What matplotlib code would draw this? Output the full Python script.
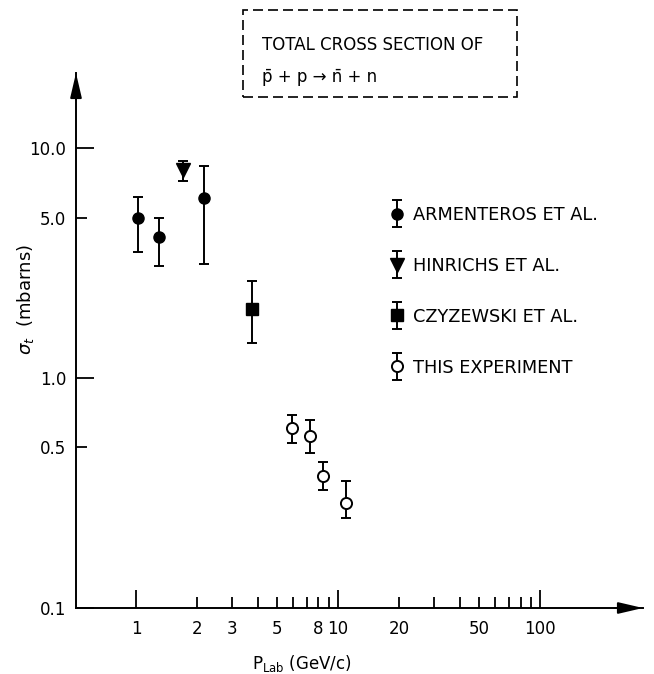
import matplotlib
matplotlib.use("Agg")
import matplotlib.pyplot as plt
from matplotlib.patches import Rectangle
from matplotlib.ticker import FixedLocator, FuncFormatter
from matplotlib.legend_handler import HandlerErrorbar
from matplotlib.container import ErrorbarContainer
import numpy as np

# data: momentum (GeV/c), cross section (mb), error band
arm_p = [1.02, 1.30, 2.18]
arm_s = [5.0, 4.12, 6.09]
arm_lo = [3.56, 3.07, 3.15]
arm_hi = [6.15, 5.0, 8.35]

hin_p = [1.71]
hin_s = [8.02]
hin_lo = [7.21]
hin_hi = [8.84]

czy_p = [3.76]
czy_s = [2.0]
czy_lo = [1.43]
czy_hi = [2.64]

exp_p = [5.90, 7.27, 8.40, 11.0]
exp_s = [0.608, 0.563, 0.375, 0.287]
exp_lo = [0.524, 0.471, 0.326, 0.246]
exp_hi = [0.695, 0.655, 0.431, 0.357]

x_major = [1, 10, 100]
x_minor = [2, 3, 4, 5, 6, 7, 8, 9, 20, 30, 40, 50, 60, 70, 80, 90]
x_labels = {1: "1", 2: "2", 3: "3", 5: "5", 8: "8", 10: "10",
            20: "20", 50: "50", 100: "100"}
y_major = [0.1, 1.0, 10.0]
y_minor = [0.5, 5.0]


def yerr(s, lo, hi):
    s = np.array(s)
    return [s - np.array(lo), np.array(hi) - s]


plt.rcParams["font.family"] = "DejaVu Sans"
fig = plt.figure(figsize=(6.54, 6.74), dpi=100)
W, H = 654, 674
ax = fig.add_axes([76 / W, 1 - 608 / H, (643 - 76) / W, (608 - 73) / H])
ax.set_xscale("log")
ax.set_yscale("log")
ax.set_xlim(0.505, 323)
ax.set_ylim(0.1, 21.3)

for side in ("top", "right"):
    ax.spines[side].set_visible(False)
for side in ("left", "bottom"):
    ax.spines[side].set_linewidth(1.4)

# arrow heads on the axes
arrow = dict(arrowstyle="-|>,head_length=1.5,head_width=0.35",
             color="black", lw=1.4, shrinkA=0, shrinkB=0)
ax.annotate("", xy=(1.0, 0), xytext=(0.95, 0), xycoords="axes fraction",
            arrowprops=arrow)
ax.annotate("", xy=(0, 1.0), xytext=(0, 0.95), xycoords="axes fraction",
            arrowprops=arrow)

fmt = FuncFormatter(lambda v, pos: x_labels.get(int(round(v)), ""))
ax.xaxis.set_major_locator(FixedLocator(x_major))
ax.xaxis.set_minor_locator(FixedLocator(x_minor))
ax.xaxis.set_major_formatter(fmt)
ax.xaxis.set_minor_formatter(fmt)

ax.yaxis.set_major_locator(FixedLocator(y_major))
ax.yaxis.set_minor_locator(FixedLocator(y_minor))
ax.yaxis.set_major_formatter(FuncFormatter(lambda v, pos: f"{v:.1f}"))
ax.yaxis.set_minor_formatter(FuncFormatter(lambda v, pos: f"{v:.1f}"))

ax.tick_params(which="both", direction="in", width=1.3, labelsize=12)
ax.tick_params(axis="x", which="major", length=13, pad=9)
ax.tick_params(axis="x", which="minor", length=8, pad=9)
ax.tick_params(axis="y", which="major", length=13, pad=7)
ax.tick_params(axis="y", which="minor", length=8, pad=7)

eb = dict(color="black", ecolor="black", elinewidth=1.4, capsize=3.5,
          capthick=1.4, linestyle="none")
ax.errorbar(arm_p, arm_s, yerr=yerr(arm_s, arm_lo, arm_hi), marker="o",
            markersize=8, label="ARMENTEROS ET AL.", **eb)
ax.errorbar(hin_p, hin_s, yerr=yerr(hin_s, hin_lo, hin_hi), marker="v",
            markersize=10, label="HINRICHS ET AL.", **eb)
ax.errorbar(czy_p, czy_s, yerr=yerr(czy_s, czy_lo, czy_hi), marker="s",
            markersize=8, label="CZYZEWSKI ET AL.", **eb)
ax.errorbar(exp_p, exp_s, yerr=yerr(exp_s, exp_lo, exp_hi), marker="o",
            markersize=8, markerfacecolor="white", markeredgewidth=1.4,
            label="THIS EXPERIMENT", **eb)

leg = ax.legend(loc="upper left", bbox_to_anchor=(381 / W, 1 - 197 / H),
                bbox_transform=fig.transFigure, frameon=False, fontsize=12.8,
                handlelength=0.8, handletextpad=0.5, labelspacing=1.85,
                borderpad=0,
                handler_map={ErrorbarContainer: HandlerErrorbar(yerr_size=0.75)})

# axis labels
fig.text(25 / W, 1 - 300 / H, r"$\sigma_t$  (mbarns)", rotation=90,
         ha="center", va="center", fontsize=13)
fig.text(302 / W, 1 - 664 / H, r"P$_{\mathrm{Lab}}$ (GeV/c)",
         ha="center", va="center", fontsize=12)

# dashed title box
fig.patches.append(Rectangle((243 / W, 1 - 97 / H), (517 - 243) / W, 87 / H,
                             transform=fig.transFigure, fill=False,
                             linestyle=(0, (6, 3)), linewidth=1.2,
                             edgecolor="black"))
fig.text(262 / W, 1 - 45 / H, "TOTAL CROSS SECTION OF", ha="left",
         va="center", fontsize=12)
fig.text(262 / W, 1 - 77 / H, "p\u0304 + p \u2192 n\u0304 + n", ha="left",
         va="center", fontsize=12)

fig.savefig("out.png", dpi=100)
